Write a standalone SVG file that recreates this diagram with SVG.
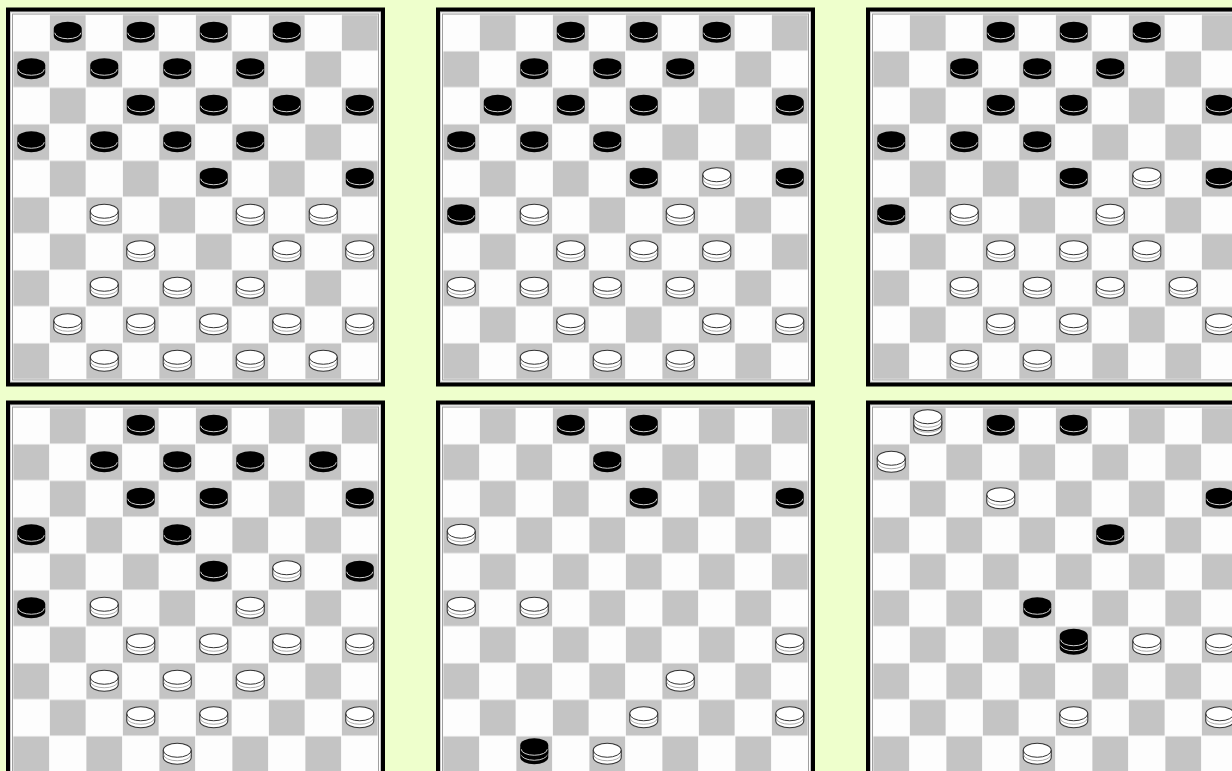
<svg xmlns="http://www.w3.org/2000/svg" xmlns:xlink="http://www.w3.org/1999/xlink" width="1232" height="771" viewBox="0 0 1232 771">
<defs>
<pattern id="chk" patternUnits="userSpaceOnUse" x="7" y="7" width="73" height="73">
<rect x="0" y="0" width="73" height="73" fill="#fdfdfd"/>
<rect x="36.9" y="0.4" width="35.7" height="35.7" fill="#c4c4c4"/>
<rect x="0.4" y="36.9" width="35.7" height="35.7" fill="#c4c4c4"/>
</pattern>
<g id="board">
<rect x="0" y="0" width="379" height="379" fill="#000"/>
<rect x="4" y="4" width="371" height="371" fill="#c8c8c8"/>
<rect x="5" y="5" width="369" height="369" fill="#ffffff"/>
<rect x="6" y="6" width="367" height="367" fill="#a0a0a0"/>
<rect x="7" y="7" width="365" height="365" fill="url(#chk)"/>
</g>
<g id="b">
<path d="M-14,-4 A14,7 0 0 1 14,-4 V3 A14,7 0 0 1 -14,3 Z" fill="#000"/>
<path d="M-13,0 A13,6 0 0 0 13,0" fill="none" stroke="#d0d0d0" stroke-width="1"/>
</g>
<g id="w">
<path d="M-14,-4 A14,7 0 0 1 14,-4 V3 A14,7 0 0 1 -14,3 Z" fill="#fff" stroke="#333" stroke-width="1.1"/>
<path d="M-14,-4 A14,7 0 0 0 14,-4" fill="none" stroke="#333" stroke-width="1"/>
<path d="M-13.5,0.5 A13.5,6 0 0 0 13.5,0.5" fill="none" stroke="#999" stroke-width="0.8"/>
</g>
<g id="bk"><use xlink:href="#b" y="0"/><use xlink:href="#b" y="-5"/></g>
<g id="wk"><use xlink:href="#w" y="0"/><use xlink:href="#w" y="-5"/></g>
</defs>
<rect x="0" y="0" width="1232" height="771" fill="#eeffcc"/>

<g id="board1" transform="translate(6,7.5)">
<use xlink:href="#board"/>
<use xlink:href="#b" x="61.75" y="25.25"/><use xlink:href="#b" x="134.75" y="25.25"/><use xlink:href="#b" x="207.75" y="25.25"/><use xlink:href="#b" x="280.75" y="25.25"/>
<use xlink:href="#b" x="25.25" y="61.75"/><use xlink:href="#b" x="98.25" y="61.75"/><use xlink:href="#b" x="171.25" y="61.75"/><use xlink:href="#b" x="244.25" y="61.75"/>
<use xlink:href="#b" x="134.75" y="98.25"/><use xlink:href="#b" x="207.75" y="98.25"/><use xlink:href="#b" x="280.75" y="98.25"/><use xlink:href="#b" x="353.75" y="98.25"/>
<use xlink:href="#b" x="25.25" y="134.75"/><use xlink:href="#b" x="98.25" y="134.75"/><use xlink:href="#b" x="171.25" y="134.75"/><use xlink:href="#b" x="244.25" y="134.75"/>
<use xlink:href="#b" x="207.75" y="171.25"/><use xlink:href="#b" x="353.75" y="171.25"/>
<use xlink:href="#w" x="98.25" y="207.75"/><use xlink:href="#w" x="244.25" y="207.75"/><use xlink:href="#w" x="317.25" y="207.75"/>
<use xlink:href="#w" x="134.75" y="244.25"/><use xlink:href="#w" x="280.75" y="244.25"/><use xlink:href="#w" x="353.75" y="244.25"/>
<use xlink:href="#w" x="98.25" y="280.75"/><use xlink:href="#w" x="171.25" y="280.75"/><use xlink:href="#w" x="244.25" y="280.75"/>
<use xlink:href="#w" x="61.75" y="317.25"/><use xlink:href="#w" x="134.75" y="317.25"/><use xlink:href="#w" x="207.75" y="317.25"/><use xlink:href="#w" x="280.75" y="317.25"/><use xlink:href="#w" x="353.75" y="317.25"/>
<use xlink:href="#w" x="98.25" y="353.75"/><use xlink:href="#w" x="171.25" y="353.75"/><use xlink:href="#w" x="244.25" y="353.75"/><use xlink:href="#w" x="317.25" y="353.75"/>
</g>

<g id="board2" transform="translate(436,7.5)">
<use xlink:href="#board"/>
<use xlink:href="#b" x="134.75" y="25.25"/><use xlink:href="#b" x="207.75" y="25.25"/><use xlink:href="#b" x="280.75" y="25.25"/>
<use xlink:href="#b" x="98.25" y="61.75"/><use xlink:href="#b" x="171.25" y="61.75"/><use xlink:href="#b" x="244.25" y="61.75"/>
<use xlink:href="#b" x="61.75" y="98.25"/><use xlink:href="#b" x="134.75" y="98.25"/><use xlink:href="#b" x="207.75" y="98.25"/><use xlink:href="#b" x="353.75" y="98.25"/>
<use xlink:href="#b" x="25.25" y="134.75"/><use xlink:href="#b" x="98.25" y="134.75"/><use xlink:href="#b" x="171.25" y="134.75"/>
<use xlink:href="#b" x="207.75" y="171.25"/><use xlink:href="#w" x="280.75" y="171.25"/><use xlink:href="#b" x="353.75" y="171.25"/>
<use xlink:href="#b" x="25.25" y="207.75"/><use xlink:href="#w" x="98.25" y="207.75"/><use xlink:href="#w" x="244.25" y="207.75"/>
<use xlink:href="#w" x="134.75" y="244.25"/><use xlink:href="#w" x="207.75" y="244.25"/><use xlink:href="#w" x="280.75" y="244.25"/>
<use xlink:href="#w" x="25.25" y="280.75"/><use xlink:href="#w" x="98.25" y="280.75"/><use xlink:href="#w" x="171.25" y="280.75"/><use xlink:href="#w" x="244.25" y="280.75"/>
<use xlink:href="#w" x="134.75" y="317.25"/><use xlink:href="#w" x="280.75" y="317.25"/><use xlink:href="#w" x="353.75" y="317.25"/>
<use xlink:href="#w" x="98.25" y="353.75"/><use xlink:href="#w" x="171.25" y="353.75"/><use xlink:href="#w" x="244.25" y="353.75"/>
</g>

<g id="board3" transform="translate(866,7.5)">
<use xlink:href="#board"/>
<use xlink:href="#b" x="134.75" y="25.25"/><use xlink:href="#b" x="207.75" y="25.25"/><use xlink:href="#b" x="280.75" y="25.25"/>
<use xlink:href="#b" x="98.25" y="61.75"/><use xlink:href="#b" x="171.25" y="61.75"/><use xlink:href="#b" x="244.25" y="61.75"/>
<use xlink:href="#b" x="134.75" y="98.25"/><use xlink:href="#b" x="207.75" y="98.25"/><use xlink:href="#b" x="353.75" y="98.25"/>
<use xlink:href="#b" x="25.25" y="134.75"/><use xlink:href="#b" x="98.25" y="134.75"/><use xlink:href="#b" x="171.25" y="134.75"/>
<use xlink:href="#b" x="207.75" y="171.25"/><use xlink:href="#w" x="280.75" y="171.25"/><use xlink:href="#b" x="353.75" y="171.25"/>
<use xlink:href="#b" x="25.25" y="207.75"/><use xlink:href="#w" x="98.25" y="207.75"/><use xlink:href="#w" x="244.25" y="207.75"/>
<use xlink:href="#w" x="134.75" y="244.25"/><use xlink:href="#w" x="207.75" y="244.25"/><use xlink:href="#w" x="280.75" y="244.25"/>
<use xlink:href="#w" x="98.25" y="280.75"/><use xlink:href="#w" x="171.25" y="280.75"/><use xlink:href="#w" x="244.25" y="280.75"/><use xlink:href="#w" x="317.25" y="280.75"/>
<use xlink:href="#w" x="134.75" y="317.25"/><use xlink:href="#w" x="207.75" y="317.25"/><use xlink:href="#w" x="353.75" y="317.25"/>
<use xlink:href="#w" x="98.25" y="353.75"/><use xlink:href="#w" x="171.25" y="353.75"/>
</g>

<g id="board4" transform="translate(6,400.5)">
<use xlink:href="#board"/>
<use xlink:href="#b" x="134.75" y="25.25"/><use xlink:href="#b" x="207.75" y="25.25"/>
<use xlink:href="#b" x="98.25" y="61.75"/><use xlink:href="#b" x="171.25" y="61.75"/><use xlink:href="#b" x="244.25" y="61.75"/><use xlink:href="#b" x="317.25" y="61.75"/>
<use xlink:href="#b" x="134.75" y="98.25"/><use xlink:href="#b" x="207.75" y="98.25"/><use xlink:href="#b" x="353.75" y="98.25"/>
<use xlink:href="#b" x="25.25" y="134.75"/><use xlink:href="#b" x="171.25" y="134.75"/>
<use xlink:href="#b" x="207.75" y="171.25"/><use xlink:href="#w" x="280.75" y="171.25"/><use xlink:href="#b" x="353.75" y="171.25"/>
<use xlink:href="#b" x="25.25" y="207.75"/><use xlink:href="#w" x="98.25" y="207.75"/><use xlink:href="#w" x="244.25" y="207.75"/>
<use xlink:href="#w" x="134.75" y="244.25"/><use xlink:href="#w" x="207.75" y="244.25"/><use xlink:href="#w" x="280.75" y="244.25"/><use xlink:href="#w" x="353.75" y="244.25"/>
<use xlink:href="#w" x="98.25" y="280.75"/><use xlink:href="#w" x="171.25" y="280.75"/><use xlink:href="#w" x="244.25" y="280.75"/>
<use xlink:href="#w" x="134.75" y="317.25"/><use xlink:href="#w" x="207.75" y="317.25"/><use xlink:href="#w" x="353.75" y="317.25"/>
<use xlink:href="#w" x="171.25" y="353.75"/>
</g>

<g id="board5" transform="translate(436,400.5)">
<use xlink:href="#board"/>
<use xlink:href="#b" x="134.75" y="25.25"/><use xlink:href="#b" x="207.75" y="25.25"/>
<use xlink:href="#b" x="171.25" y="61.75"/>
<use xlink:href="#b" x="207.75" y="98.25"/><use xlink:href="#b" x="353.75" y="98.25"/>
<use xlink:href="#w" x="25.25" y="134.75"/>
<use xlink:href="#w" x="25.25" y="207.75"/><use xlink:href="#w" x="98.25" y="207.75"/>
<use xlink:href="#w" x="353.75" y="244.25"/>
<use xlink:href="#w" x="244.25" y="280.75"/>
<use xlink:href="#w" x="207.75" y="317.25"/><use xlink:href="#w" x="353.75" y="317.25"/>
<use xlink:href="#bk" x="98.25" y="353.75"/><use xlink:href="#w" x="171.25" y="353.75"/>
</g>

<g id="board6" transform="translate(866,400.5)">
<use xlink:href="#board"/>
<use xlink:href="#wk" x="61.75" y="25.25"/><use xlink:href="#b" x="134.75" y="25.25"/><use xlink:href="#b" x="207.75" y="25.25"/>
<use xlink:href="#w" x="25.25" y="61.75"/>
<use xlink:href="#w" x="134.75" y="98.25"/><use xlink:href="#b" x="353.75" y="98.25"/>
<use xlink:href="#b" x="244.25" y="134.75"/>
<use xlink:href="#b" x="171.25" y="207.75"/>
<use xlink:href="#bk" x="207.75" y="244.25"/><use xlink:href="#w" x="280.75" y="244.25"/><use xlink:href="#w" x="353.75" y="244.25"/>
<use xlink:href="#w" x="207.75" y="317.25"/><use xlink:href="#w" x="353.75" y="317.25"/>
<use xlink:href="#w" x="171.25" y="353.75"/>
</g>
<g id="connectors"/>
</svg>
